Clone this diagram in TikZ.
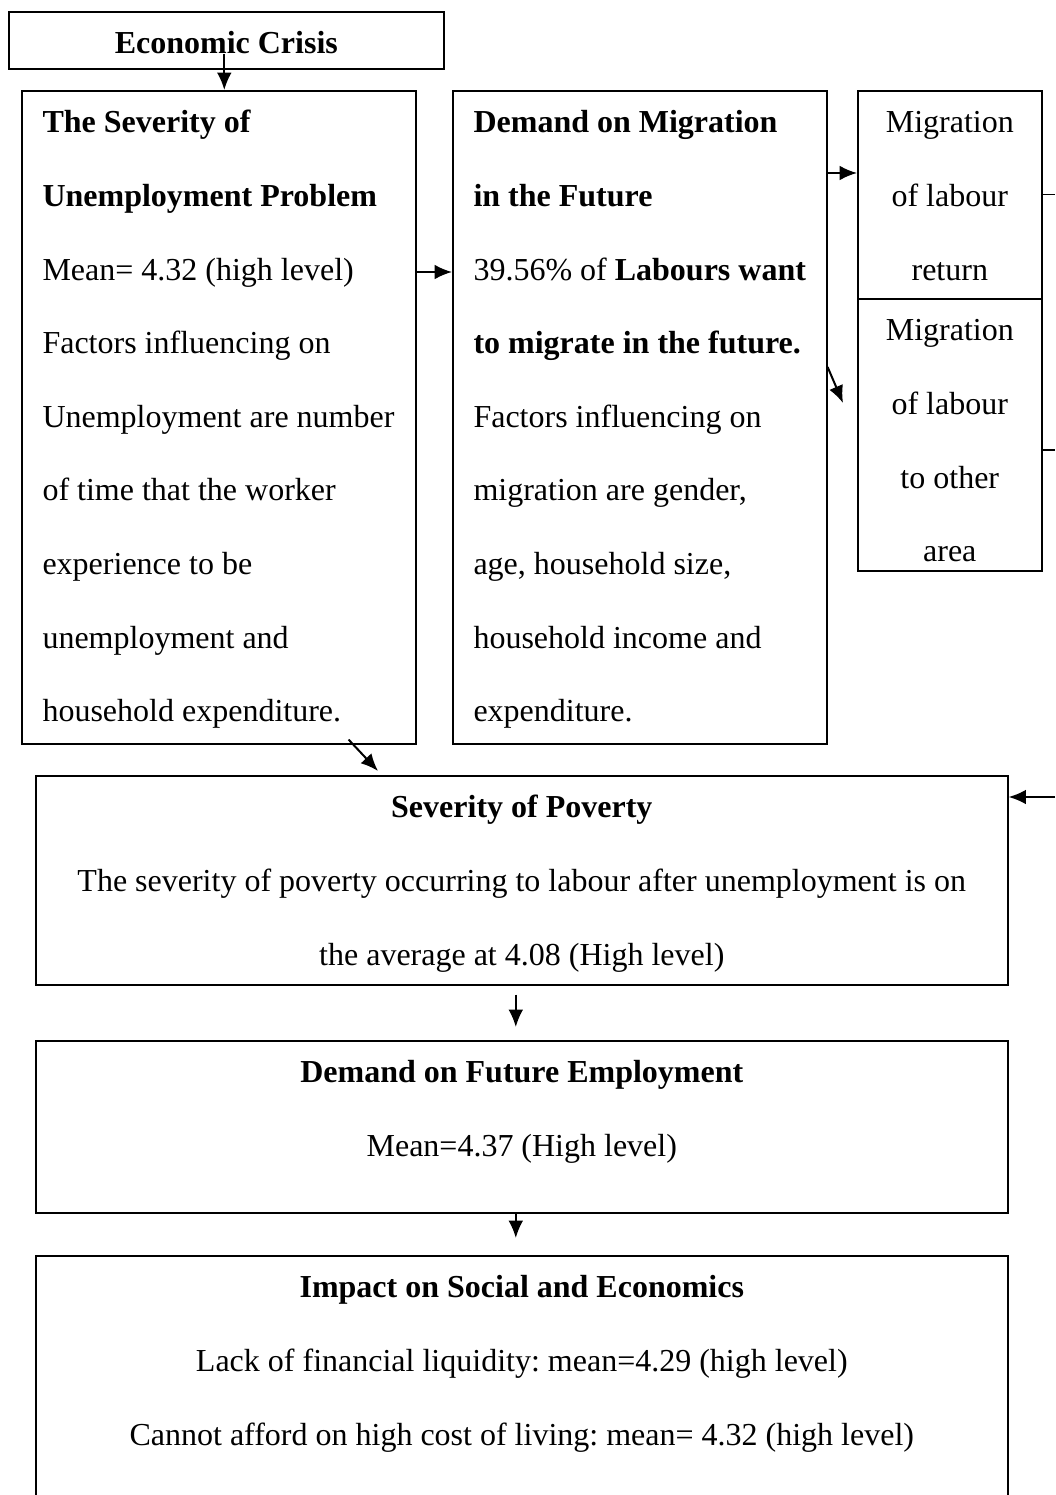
\documentclass[tikz,border=0pt]{standalone}
\usepackage{fontspec}
\setmainfont{Liberation Serif}
\usetikzlibrary{arrows.meta,calc}
\newlength\px
\setlength\px{0.375pt}
\newcommand{\firstline}{\rule{0pt}{15.9pt}}
\frenchspacing
\tikzset{
  frame/.style={draw, line width=0.6pt, inner sep=0pt, anchor=north west},
  body/.style={inner sep=0pt, font=\fontsize{12}{27.6}\selectfont},
  conn/.style={-{Latex[length=6.5pt,width=5.5pt]}, line width=0.75pt},
  link/.style={line width=0.5pt},
}
\begin{document}
\begin{tikzpicture}[x=0.375pt,y=-0.375pt]
\clip (0,0) rectangle (1055,1495);

\node[frame, minimum width=435*\px, minimum height=57*\px] (crisis) at (8,11) {};
\node[body, anchor=north] (crisis-t) at (crisis.north) {\firstline\textbf{Economic Crisis}};

\node[frame, minimum width=394*\px, minimum height=653*\px] (sev) at (21,90) {};
\node[body, anchor=north west, align=left] (sev-t) at ([shift={(21,0)}]sev.north west) {\firstline\textbf{The Severity of}\\
\textbf{Unemployment Problem}\\
Mean= 4.32 (high level)\\
Factors influencing on\\
Unemployment are number\\
of time that the worker\\
experience to be\\
unemployment and\\
household expenditure.};

\node[frame, minimum width=374*\px, minimum height=653*\px] (mig) at (452,90) {};
\node[body, anchor=north west, align=left] (mig-t) at ([shift={(21,0)}]mig.north west) {\firstline\textbf{Demand on Migration}\\
\textbf{in the Future}\\
39.56\% of \textbf{Labours want}\\
\textbf{to migrate in the future.}\\
Factors influencing on\\
migration are gender,\\
age, household size,\\
household income and\\
expenditure.};

\node[frame, minimum width=184*\px, minimum height=208*\px] (ret) at (857,90) {};
\node[body, anchor=north, align=center] (ret-t) at (ret.north) {\firstline Migration\\of labour\\return};

\node[frame, minimum width=184*\px, minimum height=272*\px] (oth) at (857,298) {};
\node[body, anchor=north, align=center] (oth-t) at (oth.north) {\firstline Migration\\of labour\\to other\\area};

\node[frame, minimum width=972*\px, minimum height=209*\px] (pov) at (35,775) {};
\node[body, anchor=north, align=center] (pov-t) at (pov.north) {\firstline\textbf{Severity of Poverty}\\
The severity of poverty occurring to labour after unemployment is on\\
the average at 4.08 (High level)};

\node[frame, minimum width=972*\px, minimum height=172*\px] (emp) at (35,1040) {};
\node[body, anchor=north, align=center] (emp-t) at (emp.north) {\firstline\textbf{Demand on Future Employment}\\
Mean=4.37 (High level)};

\node[frame, minimum width=972*\px, minimum height=290*\px] (imp) at (35,1255) {};
\node[body, anchor=north, align=center] (imp-t) at (imp.north) {\firstline\textbf{Impact on Social and Economics}\\
Lack of financial liquidity: mean=4.29 (high level)\\
Cannot afford on high cost of living: mean= 4.32 (high level)};

\coordinate (rim) at (1055,797);
\coordinate (c1) at ([shift={(-2,14)}]crisis.center);
\coordinate (o1) at ([shift={(0,152)}]oth.north east);

\draw[conn] (c1) -- (c1 |- sev.north);
\draw[conn] ([shift={(0,182)}]sev.north east) -- ([shift={(0,182)}]mig.north west);
\draw[conn] ([shift={(0,83)}]mig.north east) -- ([shift={(0,83)}]ret.north west);
\draw[conn] ([shift={(0,277)}]mig.north east) -- ([shift={(-14,105)}]oth.north west);
\draw[link] (ret.east) -- (ret.east -| rim);
\draw[link] (o1) -- (o1 -| rim);
\draw[conn] ([shift={(-68,-5)}]sev.south east) -- ([shift={(343,-4)}]pov.north west);
\draw[conn] (rim) -- (rim -| pov.east);
\draw[conn] ([shift={(-6,9)}]pov.south) -- ([shift={(-6,-13)}]emp.north);
\draw[conn] ([shift={(-6,0)}]emp.south) -- ([shift={(-6,-17)}]imp.north);
\end{tikzpicture}
\end{document}
